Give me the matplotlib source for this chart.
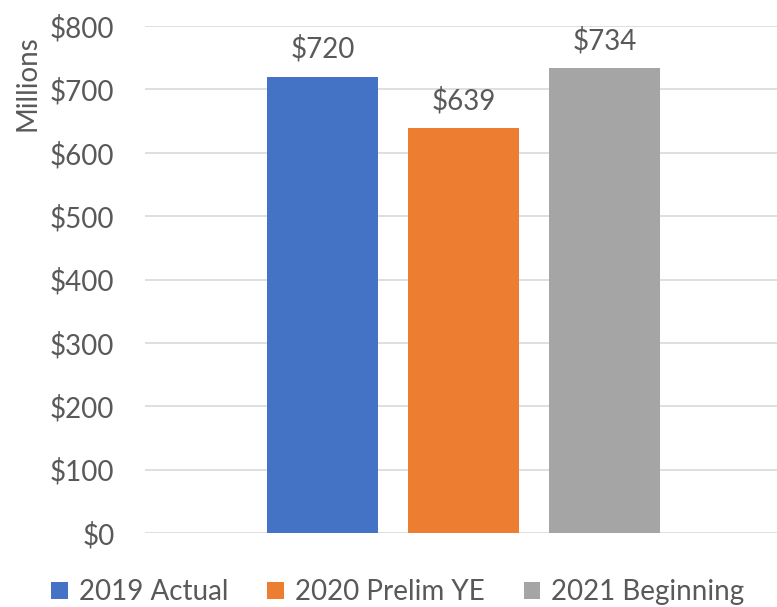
import numpy as np
import matplotlib.pyplot as plt

plt.rcParams['font.family'] = ['Lato', 'DejaVu Sans']

# donnees (en millions de dollars)
series = ['2019 Actual', '2020 Prelim YE', '2021 Beginning']
valeurs = [720, 639, 734]
couleurs = ['#4472C4', '#ED7D31', '#A5A5A5']
graduations = [0, 100, 200, 300, 400, 500, 600, 700, 800]

gris = '#595959'
taille = 20

fig = plt.figure(figsize=(7.77, 6.07), dpi=100)
ax = fig.add_axes([0.1866, 0.122, 0.8134, 0.835])

positions = np.arange(len(series)) - 1
barres = ax.bar(positions, valeurs, width=0.787, color=couleurs, label=series, zorder=3)

for x, v in zip(positions, valeurs):
    ax.annotate(f'${v}', (x, v), xytext=(0, 10), textcoords='offset points',
                ha='center', va='bottom', fontsize=taille, color=gris)

ax.set_xlim(-2.259, 2.223)
ax.set_ylim(0, 800)
ax.set_yticks(graduations)
ax.set_yticklabels([f'${g}' for g in graduations])
ax.set_xticks([])
ax.tick_params(axis='y', length=0, pad=22, labelsize=taille, labelcolor=gris)
ax.grid(axis='y', color='#D9D9D9', linewidth=1.2, zorder=0)
for s in ax.spines.values():
    s.set_visible(False)

fig.text(0.035, 0.863, 'Millions', rotation=90, ha='center', va='center',
         fontsize=taille, color=gris)

fig.legend(handles=barres, labels=series, loc='center', bbox_to_anchor=(0.512, 0.024),
           ncol=3, frameon=False, fontsize=taille, labelcolor=gris,
           handlelength=0.6, handleheight=0.6, handletextpad=0.4, columnspacing=1.4)

plt.savefig('out.png')
